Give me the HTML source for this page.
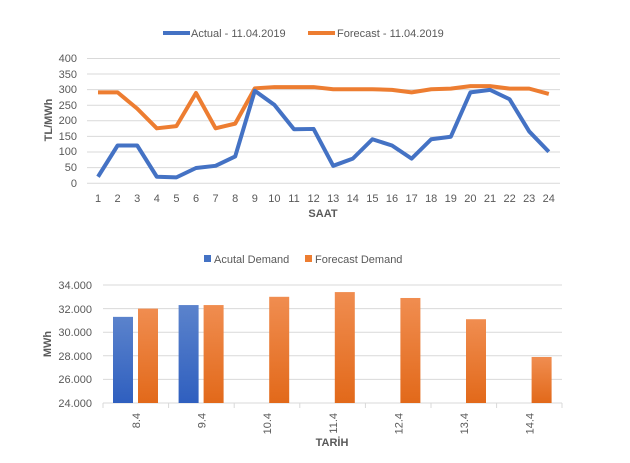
<!DOCTYPE html>
<html><head><style>
body{margin:0;background:#fff;}
svg text{font-family:"Liberation Sans",sans-serif;fill:#595959;}
</style></head><body>
<svg width="630" height="458" xmlns="http://www.w3.org/2000/svg">
<defs>
<linearGradient id="gb" x1="0" y1="0" x2="0" y2="1"><stop offset="0" stop-color="#5b83cc"/><stop offset="1" stop-color="#2f5fbf"/></linearGradient>
<linearGradient id="go" x1="0" y1="0" x2="0" y2="1"><stop offset="0" stop-color="#f08d50"/><stop offset="1" stop-color="#e2691a"/></linearGradient>
</defs>
<!-- top chart legend -->
<line x1="163" y1="33" x2="190" y2="33" stroke="#4472c4" stroke-width="4"/>
<text x="191" y="37" font-size="11">Actual - 11.04.2019</text>
<line x1="308" y1="33" x2="335" y2="33" stroke="#ed7d31" stroke-width="4"/>
<text x="337" y="37" font-size="11">Forecast - 11.04.2019</text>
<g stroke="#d9d9d9" stroke-width="1">
<line x1="87" x2="560" y1="58.5" y2="58.5"/><line x1="87" x2="560" y1="74" y2="74"/>
<line x1="87" x2="560" y1="89.6" y2="89.6"/><line x1="87" x2="560" y1="105.2" y2="105.2"/>
<line x1="87" x2="560" y1="120.8" y2="120.8"/><line x1="87" x2="560" y1="136.4" y2="136.4"/>
<line x1="87" x2="560" y1="152" y2="152"/><line x1="87" x2="560" y1="167.6" y2="167.6"/>
<line x1="87" x2="560" y1="183.2" y2="183.2"/>
</g>
<g font-size="11" text-anchor="end">
<text x="77" y="62">400</text><text x="77" y="78">350</text><text x="77" y="93">300</text>
<text x="77" y="109">250</text><text x="77" y="124">200</text><text x="77" y="140">150</text>
<text x="77" y="155">100</text><text x="77" y="171">50</text><text x="77" y="187">0</text>
</g>
<text transform="translate(52,120) rotate(-90)" font-size="11" font-weight="bold" text-anchor="middle">TL/MWh</text>
<g font-size="11" text-anchor="middle" id="xl"></g>
<text x="323" y="217" font-size="11" font-weight="bold" text-anchor="middle">SAAT</text>
<polyline id="fc" fill="none" stroke="#ed7d31" stroke-width="4" stroke-linejoin="round"/>
<polyline id="ac" fill="none" stroke="#4472c4" stroke-width="4" stroke-linejoin="round"/>
<!-- bottom chart -->
<rect x="204" y="255" width="7" height="7" fill="#4472c4"/>
<text x="214" y="263" font-size="11">Acutal Demand</text>
<rect x="305" y="255" width="7" height="7" fill="#ed7d31"/>
<text x="315" y="263" font-size="11">Forecast Demand</text>
<g stroke="#d9d9d9">
<line x1="103" x2="562" y1="285" y2="285"/><line x1="103" x2="562" y1="308.6" y2="308.6"/>
<line x1="103" x2="562" y1="332.2" y2="332.2"/><line x1="103" x2="562" y1="355.8" y2="355.8"/>
<line x1="103" x2="562" y1="379.4" y2="379.4"/><line x1="103" x2="562" y1="403" y2="403"/>
</g>
<g font-size="11" text-anchor="end">
<text x="92" y="289">34.000</text><text x="92" y="313">32.000</text><text x="92" y="336">30.000</text>
<text x="92" y="360">28.000</text><text x="92" y="383">26.000</text><text x="92" y="407">24.000</text>
</g>
<text transform="translate(51,344) rotate(-90)" font-size="11" font-weight="bold" text-anchor="middle">MWh</text>
<g id="bars"></g>
<text x="332" y="446" font-size="11" font-weight="bold" text-anchor="middle">TARİH</text>
</svg>
<script>
var A=[20,120,120,20,18,48,55,85,295,250,172,173,55,78,140,120,78,140,148,290,298,268,165,100];
var F=[290,290,238,175,182,288,175,190,303,307,307,307,300,300,300,298,290,300,302,310,310,302,302,285];
function X(i){return 98+i*19.6;}function Y(v){return 183-v*0.3125;}
document.getElementById('ac').setAttribute('points',A.map((v,i)=>X(i)+','+Y(v)).join(' '));
document.getElementById('fc').setAttribute('points',F.map((v,i)=>X(i)+','+Y(v)).join(' '));
var xl=document.getElementById('xl'),h='';
for(var i=0;i<24;i++)h+='<text x="'+X(i)+'" y="202">'+(i+1)+'</text>';
xl.innerHTML=h;
var B=[31300,32300,null,null,null,null,null],O=[32000,32300,33000,33400,32900,31100,27900];
var L=['8.4','9.4','10.4','11.4','12.4','13.4','14.4'];
function Yb(v){return 403-(v-24000)*0.0118;}
h='';var w=65.6;
for(var i=0;i<7;i++){var s=103+i*w;
if(B[i])h+='<rect x="'+(s+10)+'" y="'+Yb(B[i])+'" width="20" height="'+(403-Yb(B[i]))+'" fill="url(#gb)"/>';
h+='<rect x="'+(s+35)+'" y="'+Yb(O[i])+'" width="20" height="'+(403-Yb(O[i]))+'" fill="url(#go)"/>';
h+='<line x1="'+s+'" x2="'+s+'" y1="403" y2="408" stroke="#d9d9d9"/>';
h+='<text transform="translate('+(s+37)+',413) rotate(-90)" font-size="11" text-anchor="end">'+L[i]+'</text>';}
h+='<line x1="562" x2="562" y1="403" y2="408" stroke="#d9d9d9"/>';
document.getElementById('bars').innerHTML=h;
</script>
</body></html>
